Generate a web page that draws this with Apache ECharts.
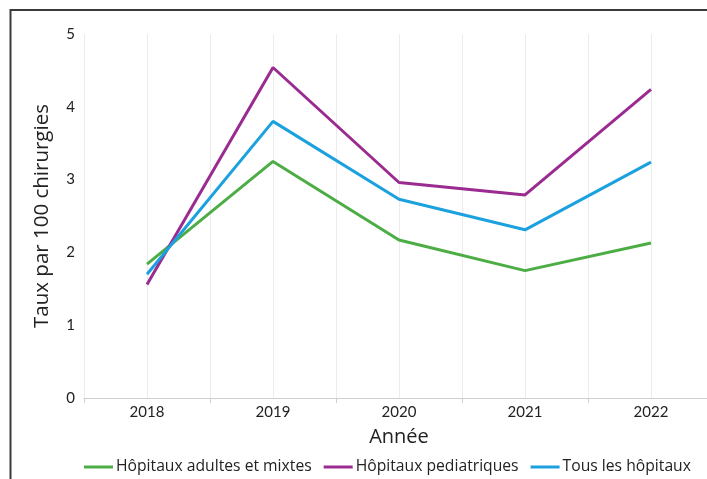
<!DOCTYPE html>
<html>
<head>
<meta charset="utf-8">
<script src="https://cdn.jsdelivr.net/npm/echarts@6/dist/echarts.min.js"></script>
<style>
html,body{margin:0;padding:0;overflow:hidden;background:#fff;}
#c{width:730px;height:479px;}
</style>
</head>
<body>
<div id="c"></div>
<script>
const categories = ['2018','2019','2020','2021','2022'];
const adultes = [1.84, 3.25, 2.17, 1.75, 2.13];
const pediatriques = [1.56, 4.54, 2.96, 2.79, 4.24];
const tous = [1.70, 3.80, 2.73, 2.31, 3.24];
const yTicks = [0, 1, 2, 3, 4, 5];
const names = ['Hôpitaux adultes et mixtes', 'Hôpitaux pediatriques', 'Tous les hôpitaux'];
const colors = ['#4DAD45', '#9A2B90', '#1BA1DE'];
const FONT = 'Lato';
const FONT2 = 'Open Sans';

const chart = echarts.init(document.getElementById('c'));
chart.setOption({
  animation: false,
  textStyle: {fontFamily: FONT},
  grid: {left: 84, right: 16, top: 34, bottom: 81, containLabel: false},
  graphic: [{
    type: 'polyline',
    shape: {points: [[10.5, 479], [10.5, 10], [730, 10]]},
    style: {stroke: '#3a3a3a', lineWidth: 2, fill: null}
  }],
  legend: {
    left: 79, top: 454,
    icon: 'rect', itemWidth: 29, itemHeight: 3, itemGap: 12,
    textStyle: {fontFamily: FONT2, fontSize: 15.7, color: '#222', padding: [0, 0, 0, -2]},
    data: names
  },
  xAxis: [{
    type: 'category',
    data: categories,
    boundaryGap: true,
    name: 'Année', nameLocation: 'middle', nameGap: 29,
    nameTextStyle: {fontSize: 20, color: '#222', fontFamily: FONT2},
    axisLine: {lineStyle: {color: '#cfcfcf', width: 1}},
    axisTick: {show: true, length: 5, lineStyle: {color: '#cfcfcf'}},
    axisLabel: {fontSize: 15, color: '#222', margin: 7, fontFamily: FONT},
    splitLine: {show: false}
  }, {
    type: 'value', min: -0.5, max: 4.5, interval: 0.5,
    position: 'bottom',
    axisLine: {show: false}, axisTick: {show: false}, axisLabel: {show: false},
    splitLine: {show: true, lineStyle: {color: '#ececec', width: 1}}
  }],
  yAxis: {
    type: 'value', min: yTicks[0], max: yTicks[yTicks.length - 1], interval: 1,
    name: 'Taux par 100 chirurgies', nameLocation: 'middle', nameGap: 31,
    nameTextStyle: {fontSize: 20.5, color: '#222', fontFamily: FONT2},
    axisLine: {show: false}, axisTick: {show: false},
    axisLabel: {fontSize: 15, color: '#222', margin: 9, fontFamily: FONT},
    splitLine: {show: false}
  },
  series: [
    {name: names[0], type: 'line', data: adultes, color: colors[0], symbol: 'none', lineStyle: {width: 3}},
    {name: names[1], type: 'line', data: pediatriques, color: colors[1], symbol: 'none', lineStyle: {width: 3}},
    {name: names[2], type: 'line', data: tous, color: colors[2], symbol: 'none', lineStyle: {width: 3}}
  ]
});
</script>
</body>
</html>
